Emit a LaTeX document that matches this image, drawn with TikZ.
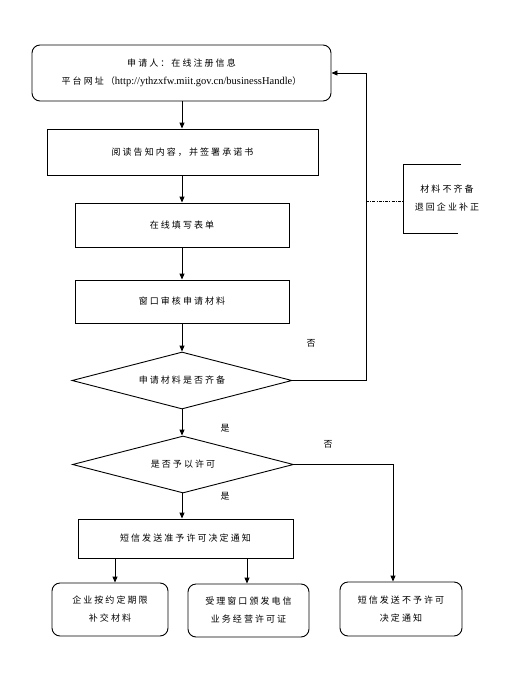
\documentclass[tikz,border=0pt]{standalone}
\usepackage{fontspec}
\setmainfont{Liberation Serif}
\newfontfamily\cjk[LetterSpace=23]{Noto Sans CJK SC}
\usetikzlibrary{shapes.geometric,arrows.meta,calc}
\tikzset{
  base/.style={draw=black, line width=0.9pt, align=center, inner sep=0pt, font=\fontsize{9}{18}\selectfont\cjk},
  rbox/.style={base, rounded corners=8pt},
  sbox/.style={base},
  dia/.style={base, diamond, aspect=3.86},
  lbl/.style={font=\fontsize{9}{11}\selectfont\cjk, inner sep=0pt},
  arr/.style={line width=0.9pt, -{Triangle[length=6pt,width=5pt]}},
  ln/.style={line width=0.9pt},
}
\begin{document}
\begin{tikzpicture}[x=1pt,y=-1pt]
\useasboundingbox (0,0) rectangle (528,685);
\node[rbox, minimum width=299pt, minimum height=56pt] (top) at (181.5,73)
  {申请人：在线注册信息\\平台网址（{\rmfamily\fontsize{10.5}{18}\selectfont http://ythzxfw.miit.gov.cn/businessHandle}）};
\node[sbox, minimum width=271pt, minimum height=46pt] (b2) at (182.5,152) {阅读告知内容，并签署承诺书};
\node[sbox, minimum width=214pt, minimum height=44pt] (b3) at (182,225) {在线填写表单};
\node[sbox, minimum width=214pt, minimum height=43pt] (b4) at (182,301.5) {窗口审核申请材料};
\node[dia, minimum width=220pt, minimum height=57pt] (d1) at (182,380.5) {申请材料是否齐备};
\node[dia, minimum width=221pt, minimum height=57pt] (d2) at (183,464.5) {是否予以许可};
\node[sbox, minimum width=215pt, minimum height=39pt] (b5) at (185.5,538.5) {短信发送准予许可决定通知};
\node[rbox, minimum width=116pt, minimum height=53pt] (nA) at (110,609.5) {企业按约定期限\\补交材料};
\node[rbox, minimum width=121pt, minimum height=53pt] (nB) at (248.5,610.5) {受理窗口颁发电信\\业务经营许可证};
\node[rbox, minimum width=122pt, minimum height=54pt] (nC) at (401,609) {短信发送不予许可\\决定通知};
% annotation
\coordinate (brT) at (461,164);
\coordinate (brB) at (458,233);
\coordinate (brL) at (403,201);
\draw[ln] (brT) -- (403,164) -- (403,233) -- (brB);
\node[base, draw=none] (note) at (447,198) {材料不齐备\\退回企业补正};
% main flow
\coordinate (cx) at (182,0);
\draw[arr] (top.south -| cx) -- (b2.north -| cx);
\draw[arr] (b2.south -| cx) -- (b3.north -| cx);
\draw[arr] (b3.south -| cx) -- (b4.north -| cx);
\draw[arr] (b4.south -| cx) -- (d1.north);
\draw[arr] (d1.south) -- (d2.north -| cx);
\draw[arr] (d2.south -| cx) -- (b5.north -| cx);
% return loop
\coordinate (rx) at (366,0);
\draw[arr] (d1.east) -- (d1.east -| rx) -- (top.east -| rx) -- (top.east);
\draw[ln, dash pattern=on 3pt off 1.2pt on 1pt off 1.2pt] (brL -| rx) -- (brL);
% refuse branch
\coordinate (nx) at (393,0);
\draw[arr] (d2.east) -- (d2.east -| nx) -- (nC.north -| nx);
% bottom arrows
\coordinate (ax) at (115,0);
\coordinate (bx) at (247,0);
\draw[arr] (b5.south -| ax) -- (nA.north -| ax);
\draw[arr] (b5.south -| bx) -- (nB.north -| bx);
% labels
\node[lbl] (no1) at (311,343) {否};
\node[lbl] (yes1) at (225,428) {是};
\node[lbl] (no2) at (328,444) {否};
\node[lbl] (yes2) at (225,496) {是};
\end{tikzpicture}
\end{document}
